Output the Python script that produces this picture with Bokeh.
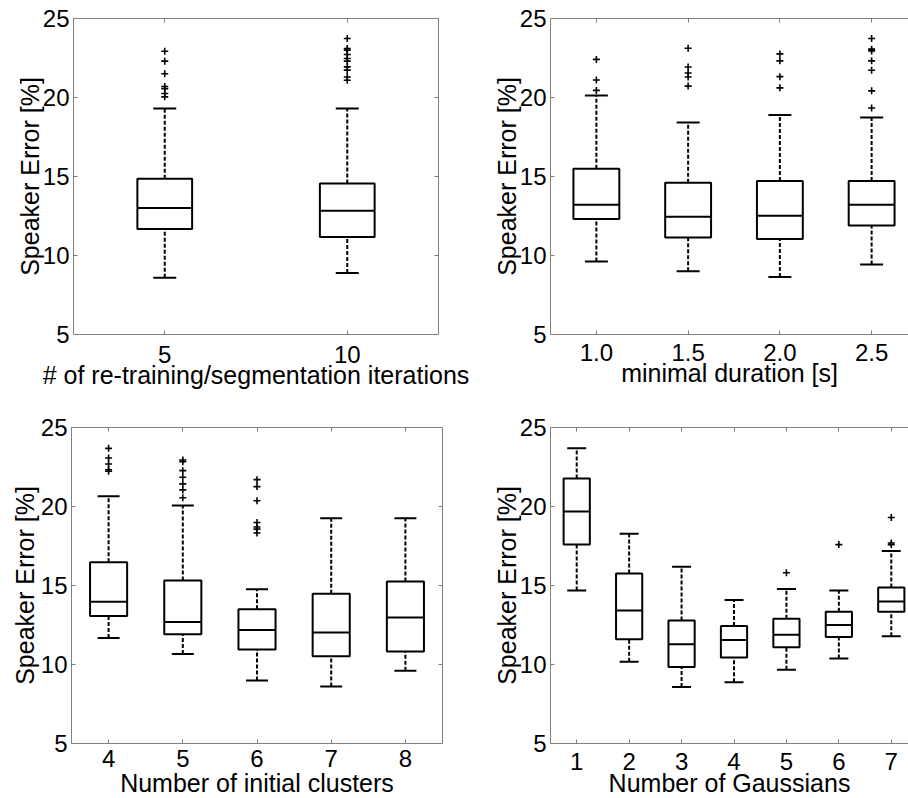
from bokeh.plotting import figure
from bokeh.layouts import column, row
from bokeh.models import (Range1d, LinearAxis, FixedTicker, Whisker, TeeHead,
                          ColumnDataSource, Title)
from bokeh.embed import file_html
from bokeh.resources import INLINE

FONT = "Liberation Sans"
YLABEL = "Speaker Error [%]"
Y_TICKS = [5, 10, 15, 20, 25]

# ---- Panel 1: re-training/segmentation iterations
p1_cats = ["5", "10"]
p1_lw = [8.59, 8.89]
p1_q1 = [11.67, 11.17]
p1_med = [13.0, 12.84]
p1_q3 = [14.86, 14.55]
p1_uw = [19.3, 19.3]
p1_out = [[22.93, 22.3, 21.5, 20.7, 20.56, 20.25, 20.04],
          [23.73, 23.1, 23.0, 22.72, 22.47, 22.3, 21.94, 21.73, 21.3, 21.09]]
p1_xlabel = "# of re-training/segmentation iterations"

# ---- Panel 2: minimal duration
p2_cats = ["1.0", "1.5", "2.0", "2.5"]
p2_lw = [9.62, 9.01, 8.64, 9.43]
p2_q1 = [12.31, 11.14, 11.04, 11.9]
p2_med = [13.21, 12.46, 12.52, 13.21]
p2_q3 = [15.49, 14.61, 14.72, 14.72]
p2_uw = [20.13, 18.42, 18.9, 18.73]
p2_out = [[22.41, 21.11, 20.45],
          [23.12, 21.93, 21.55, 21.3, 20.72],
          [22.76, 22.32, 21.32, 20.61],
          [23.73, 23.06, 22.95, 22.32, 21.72, 20.42, 19.34]]
p2_xlabel = "minimal duration [s]"

# ---- Panel 3: number of initial clusters
p3_cats = ["4", "5", "6", "7", "8"]
p3_lw = [11.68, 10.67, 8.99, 8.61, 9.6]
p3_q1 = [13.07, 11.91, 10.95, 10.53, 10.82]
p3_med = [13.97, 12.69, 12.18, 12.02, 12.98]
p3_q3 = [16.47, 15.32, 13.49, 14.47, 15.25]
p3_uw = [20.65, 20.06, 14.77, 19.26, 19.26]
p3_out = [[23.68, 23.07, 22.69, 22.33, 22.23],
          [22.94, 22.84, 22.27, 21.85, 21.43, 21.05, 20.55],
          [21.7, 21.26, 20.36, 18.99, 18.7, 18.57, 18.32],
          [],
          []]
p3_xlabel = "Number of initial clusters"

# ---- Panel 4: number of Gaussians
p4_cats = ["1", "2", "3", "4", "5", "6", "7"]
p4_lw = [14.68, 10.17, 8.58, 8.87, 9.67, 10.38, 11.79]
p4_q1 = [17.59, 11.6, 9.84, 10.45, 11.09, 11.74, 13.34]
p4_med = [19.68, 13.42, 11.28, 11.55, 11.89, 12.5, 13.98]
p4_q3 = [21.77, 15.76, 12.79, 12.43, 12.9, 13.34, 14.88]
p4_uw = [23.68, 18.28, 16.18, 14.09, 14.78, 14.68, 17.19]
p4_out = [[], [], [], [], [15.81], [17.59], [19.3, 17.69, 17.59]]
p4_xlabel = "Number of Gaussians"


def style_axis(ax, show_labels=True):
    ax.axis_line_color = "#808080"
    ax.axis_line_width = 1
    ax.major_tick_line_color = "#808080"
    ax.major_tick_line_width = 1
    ax.major_tick_in = 4
    ax.major_tick_out = 0
    ax.minor_tick_line_color = None
    ax.major_label_text_font = FONT
    ax.major_label_text_color = "black"
    ax.axis_label_text_font = FONT
    ax.axis_label_text_font_style = "normal"
    ax.axis_label_text_color = "black"
    ax.axis_label_text_font_size = "25px"
    if show_labels:
        ax.major_label_text_font_size = "24px"
    else:
        ax.major_label_text_font_size = "0px"
        ax.major_label_standoff = 0


def make_panel(cats, lw, q1, med, q3, uw, outl, xlabel,
               W, H, fl, ft, fw, fh, full_w, box_w, cap, has_right,
               xtick_stand, xlab_stand, ylab_stand):
    n = len(cats)
    xs = list(range(1, n + 1))
    x_end = 0.5 + n * fw / full_w
    p = figure(width=W, height=H, x_range=Range1d(0.5, x_end), y_range=Range1d(5, 25),
               output_backend="svg", toolbar_location=None,
               x_axis_location=None, y_axis_location=None,
               min_border_left=fl, min_border_top=ft,
               min_border_right=W - fl - fw, min_border_bottom=H - ft - fh)
    p.outline_line_color = None
    p.xgrid.visible = False
    p.ygrid.visible = False
    p.background_fill_color = "white"
    p.border_fill_color = "white"

    xt = FixedTicker(ticks=xs)
    yt = FixedTicker(ticks=Y_TICKS)
    overrides = {x: c for x, c in zip(xs, cats)}

    bottom = LinearAxis(ticker=xt, major_label_overrides=overrides)
    style_axis(bottom)
    bottom.major_label_standoff = xtick_stand
    p.add_layout(bottom, "below")

    # x-axis title as a below-panel title (allows overlap with the tick-label band)
    p.add_layout(Title(text=xlabel, align="center", vertical_align="bottom",
                       standoff=xlab_stand, text_font=FONT, text_font_size="25px",
                       text_font_style="normal", text_color="black"), "below")

    top = LinearAxis(ticker=xt, major_label_overrides={x: "" for x in xs})
    style_axis(top, show_labels=False)
    p.add_layout(top, "above")

    left = LinearAxis(ticker=yt, axis_label=YLABEL)
    style_axis(left)
    left.major_label_standoff = 4
    left.axis_label_standoff = ylab_stand
    p.add_layout(left, "left")

    if has_right:
        right = LinearAxis(ticker=yt, major_label_overrides={y: "" for y in Y_TICKS})
        style_axis(right, show_labels=False)
        p.add_layout(right, "right")

    x0 = [x - box_w / 2 for x in xs]
    x1 = [x + box_w / 2 for x in xs]
    src = ColumnDataSource(dict(x=xs, lw=lw, q1=q1, med=med, q3=q3, uw=uw, x0=x0, x1=x1))

    p.add_layout(Whisker(source=src, base="x", lower="q3", upper="uw", dimension="height",
                         line_color="black", line_width=2, line_dash="4 2",
                         upper_head=TeeHead(size=cap, line_color="black", line_width=2),
                         lower_head=None))
    p.add_layout(Whisker(source=src, base="x", lower="lw", upper="q1", dimension="height",
                         line_color="black", line_width=2, line_dash="4 2",
                         lower_head=TeeHead(size=cap, line_color="black", line_width=2),
                         upper_head=None))

    p.vbar(x="x", width=box_w, bottom="q1", top="q3", source=src,
           fill_color="white", line_color="black", line_width=2)
    p.segment(x0="x0", y0="med", x1="x1", y1="med", source=src,
              line_color="black", line_width=2)

    ox = [x for x, vals in zip(xs, outl) for v in vals]
    oy = [v for vals in outl for v in vals]
    p.scatter(ox, oy, marker="cross", size=7, line_color="black", line_width=1.6)
    return p


pA = make_panel(p1_cats, p1_lw, p1_q1, p1_med, p1_q3, p1_uw, p1_out, p1_xlabel,
                W=480, H=399, fl=73, ft=18, fw=365, fh=316, full_w=365,
                box_w=0.3, cap=23, has_right=True,
                xtick_stand=11, xlab_stand=-13, ylab_stand=-4)
pB = make_panel(p2_cats, p2_lw, p2_q1, p2_med, p2_q3, p2_uw, p2_out, p2_xlabel,
                W=428, H=399, fl=70, ft=18, fw=358, fh=318, full_w=367,
                box_w=0.5, cap=23, has_right=False,
                xtick_stand=9, xlab_stand=-13, ylab_stand=-4)
pC = make_panel(p3_cats, p3_lw, p3_q1, p3_med, p3_q3, p3_uw, p3_out, p3_xlabel,
                W=480, H=399, fl=71, ft=27, fw=371, fh=317, full_w=371,
                box_w=0.5, cap=22, has_right=True,
                xtick_stand=6, xlab_stand=-5, ylab_stand=-1)
pD = make_panel(p4_cats, p4_lw, p4_q1, p4_med, p4_q3, p4_uw, p4_out, p4_xlabel,
                W=428, H=399, fl=70, ft=28, fw=358, fh=318, full_w=367,
                box_w=0.5, cap=19, has_right=False,
                xtick_stand=9, xlab_stand=-11, ylab_stand=-4)

layout = column(row(pA, pB), row(pC, pD))
open("out.html", "w").write(file_html(layout, INLINE))
